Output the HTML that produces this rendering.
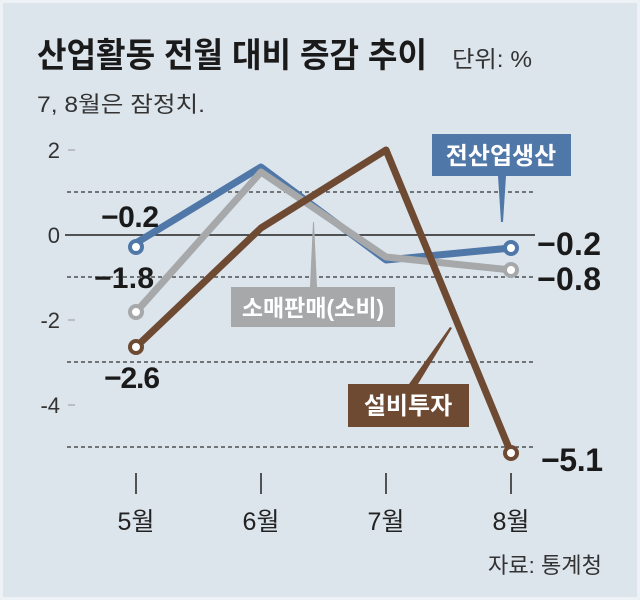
<!DOCTYPE html>
<html><head><meta charset="utf-8"><style>
body{margin:0;background:#fff}
svg{display:block}
text{font-family:"Liberation Sans","Noto Sans CJK KR",sans-serif}
</style></head><body>
<svg width="640" height="600" viewBox="0 0 640 600" xmlns="http://www.w3.org/2000/svg">
<rect x="0" y="0" width="640" height="600" fill="#eef2f6"/>
<rect x="3" y="3" width="634" height="594" fill="#dce4ec"/>
<text x="37" y="67" font-size="34" font-weight="bold" fill="#1a1a1a" textLength="390" lengthAdjust="spacingAndGlyphs">산업활동 전월 대비 증감 추이</text>
<text x="452" y="67" font-size="23" fill="#333" textLength="80" lengthAdjust="spacingAndGlyphs">단위: %</text>
<text x="37" y="112" font-size="22" fill="#333" textLength="168" lengthAdjust="spacingAndGlyphs">7, 8월은 잠정치.</text>
<g font-size="22" fill="#333" text-anchor="end">
<text x="60" y="158">2</text><text x="60" y="243">0</text><text x="60" y="328">-2</text><text x="60" y="413">-4</text>
</g>
<g stroke="#999" stroke-width="1"><line x1="68" y1="150" x2="75" y2="150"/><line x1="68" y1="320" x2="75" y2="320"/><line x1="68" y1="405" x2="75" y2="405"/></g>
<g stroke="#333" stroke-width="1.2" stroke-dasharray="4,3">
<line x1="67" y1="192" x2="535" y2="192"/><line x1="67" y1="277" x2="535" y2="277"/><line x1="67" y1="362" x2="535" y2="362"/><line x1="67" y1="447" x2="535" y2="447"/>
</g>
<line x1="65" y1="235" x2="535" y2="235" stroke="#222" stroke-width="1.5"/>
<g stroke="#222" stroke-width="1.5"><line x1="136" y1="473" x2="136" y2="494"/><line x1="261" y1="473" x2="261" y2="494"/><line x1="386" y1="473" x2="386" y2="494"/><line x1="511" y1="473" x2="511" y2="494"/></g>
<g font-size="25" fill="#222" text-anchor="middle"><text x="136" y="530">5월</text><text x="261" y="530">6월</text><text x="386" y="530">7월</text><text x="511" y="530">8월</text></g>
<!-- pointers -->
<polygon points="498,176 506,176 503,222 501,222" fill="#4f77a8"/>
<polygon points="310,287 317,287 314,222 313,222" fill="#a6a8aa"/>
<polygon points="409,384 418,384 452,328 450,327" fill="#6e4a33"/>
<!-- lines -->
<polyline points="136,243 261,167 386,260 511,248" fill="none" stroke="#4f77a8" stroke-width="7" stroke-linejoin="round"/>
<polyline points="136,312 261,172 386,257 511,270" fill="none" stroke="#a6a8aa" stroke-width="7" stroke-linejoin="round"/>
<polyline points="136,347 261,228 386,150 511,453" fill="none" stroke="#6e4a33" stroke-width="7" stroke-linejoin="round"/>
<g fill="#fff" stroke-width="4">
<circle cx="136" cy="247" r="6" stroke="#4f77a8"/><circle cx="511" cy="248" r="6" stroke="#4f77a8"/>
<circle cx="136" cy="312" r="6" stroke="#a6a8aa"/><circle cx="511" cy="270" r="6" stroke="#a6a8aa"/>
<circle cx="136" cy="347" r="6" stroke="#6e4a33"/><circle cx="511" cy="453" r="6" stroke="#6e4a33"/>
</g>
<!-- boxes -->
<rect x="432" y="134" width="139" height="42" fill="#4f77a8"/>
<text x="501" y="164" font-size="24" font-weight="bold" fill="#fff" text-anchor="middle">전산업생산</text>
<rect x="231" y="287" width="164" height="40" fill="#a6a8aa"/>
<text x="313" y="316" font-size="23" font-weight="bold" fill="#fff" text-anchor="middle">소매판매(소비)</text>
<rect x="348" y="384" width="121" height="43" fill="#6e4a33"/>
<text x="408" y="414" font-size="24" font-weight="bold" fill="#fff" text-anchor="middle">설비투자</text>
<!-- values -->
<g font-size="30" font-weight="bold" fill="#1a1a1a" lengthAdjust="spacingAndGlyphs">
<text x="101" y="227" textLength="58">−0.2</text>
<text x="94" y="288" textLength="60">−1.8</text>
<text x="104" y="388" textLength="56">−2.6</text>
<text x="537" y="255" font-size="32" textLength="64">−0.2</text>
<text x="537" y="290" font-size="32" textLength="64">−0.8</text>
<text x="541" y="471" font-size="32" textLength="62">−5.1</text>
</g>
<text x="488" y="573" font-size="22" fill="#333" textLength="114" lengthAdjust="spacingAndGlyphs">자료: 통계청</text>
</svg>
</body></html>
